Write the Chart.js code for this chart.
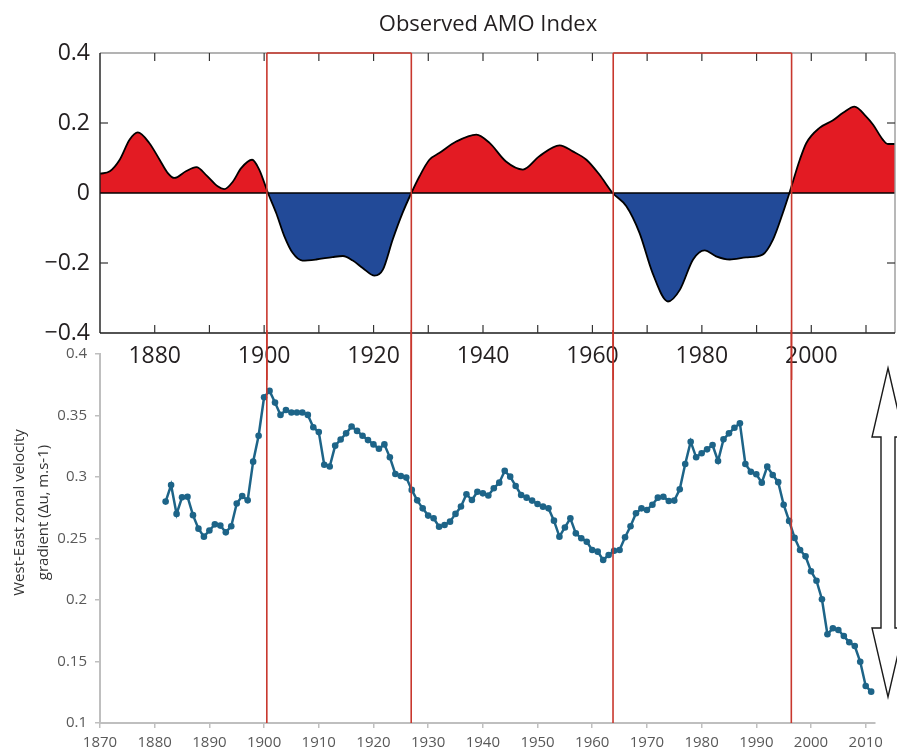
<!DOCTYPE html>
<html>
<head>
<meta charset="utf-8">
<title>Observed AMO Index and West-East zonal velocity gradient</title>
<script src="https://cdn.jsdelivr.net/npm/chart.js@4.4.1/dist/chart.umd.min.js"></script>
<style>
  html, body { margin: 0; padding: 0; background: #ffffff; }
  #wrap { position: relative; width: 897px; height: 756px; overflow: hidden; }
  #amo  { position: absolute; left: 0; top: 0; }
  #grad { position: absolute; left: 0; top: 330px; }
</style>
</head>
<body>
<div id="wrap">
  <canvas id="amo" width="897" height="380"></canvas>
  <canvas id="grad" width="897" height="426"></canvas>
</div>
<script>
// ---- Observed AMO index (smoothed), year / value ----
const amoYears = [
  1870, 1871.8, 1873.6, 1875.4, 1876.9, 1879, 1880.9, 1882.4, 1883.6, 1885.7,
  1887.6, 1889.6, 1891.5, 1892.7, 1894.3, 1895.8, 1897.8, 1899.1, 1900.7, 1902.2,
  1903.7, 1905.2, 1907, 1909.5, 1912.5, 1914.4, 1916.2, 1918, 1920.2, 1921.7,
  1923.5, 1925.3, 1926.9, 1928.4, 1930.2, 1932, 1935.1, 1938.8, 1941.2, 1944.2,
  1947.3, 1950.3, 1954, 1956.4, 1958.9, 1961.3, 1963.7, 1966.2, 1968.6, 1971,
  1973.8, 1976, 1978.4, 1980.5, 1982.6, 1985.1, 1988.1, 1991.1, 1993, 1994.8,
  1996, 1997.9, 1999.1, 2001.5, 2003.9, 2005.8, 2007.9, 2010, 2011.3, 2013.1,
  2014, 2015.3
];
const amoValues = [
  0.055, 0.062, 0.095, 0.152, 0.173, 0.143, 0.095, 0.057, 0.043, 0.062,
  0.074, 0.048, 0.019, 0.011, 0.033, 0.071, 0.095, 0.067, 0, -0.057,
  -0.124, -0.171, -0.193, -0.19, -0.183, -0.18, -0.193, -0.214, -0.236, -0.219,
  -0.133, -0.057, 0, 0.048, 0.095, 0.114, 0.147, 0.167, 0.143, 0.09,
  0.067, 0.105, 0.136, 0.119, 0.095, 0.052, 0, -0.038, -0.114, -0.229,
  -0.31, -0.276, -0.19, -0.164, -0.181, -0.19, -0.184, -0.176, -0.133, -0.057,
  0, 0.095, 0.143, 0.186, 0.207, 0.229, 0.247, 0.219, 0.195, 0.152,
  0.14, 0.14
];

// ---- West-East zonal velocity gradient (annual) ----
const gradYears = [
  1882, 1883, 1884, 1885, 1886, 1887, 1888, 1889, 1890, 1891,
  1892, 1893, 1894, 1895, 1896, 1897, 1898, 1899, 1900, 1901,
  1902, 1903, 1904, 1905, 1906, 1907, 1908, 1909, 1910, 1911,
  1912, 1913, 1914, 1915, 1916, 1917, 1918, 1919, 1920, 1921,
  1922, 1923, 1924, 1925, 1926, 1927, 1928, 1929, 1930, 1931,
  1932, 1933, 1934, 1935, 1936, 1937, 1938, 1939, 1940, 1941,
  1942, 1943, 1944, 1945, 1946, 1947, 1948, 1949, 1950, 1951,
  1952, 1953, 1954, 1955, 1956, 1957, 1958, 1959, 1960, 1961,
  1962, 1963, 1964, 1965, 1966, 1967, 1968, 1969, 1970, 1971,
  1972, 1973, 1974, 1975, 1976, 1977, 1978, 1979, 1980, 1981,
  1982, 1983, 1984, 1985, 1986, 1987, 1988, 1989, 1990, 1991,
  1992, 1993, 1994, 1995, 1996, 1997, 1998, 1999, 2000, 2001,
  2002, 2003, 2004, 2005, 2006, 2007, 2008, 2009, 2010, 2011
];
const gradValues = [
  0.280, 0.2935, 0.270, 0.2835, 0.284, 0.269, 0.258, 0.2515, 0.2565, 0.2615,
  0.2605, 0.255, 0.260, 0.2785, 0.2845, 0.281, 0.3125, 0.3335, 0.3648, 0.370,
  0.3605, 0.3505, 0.3545, 0.3525, 0.3525, 0.3525, 0.3505, 0.3405, 0.3365, 0.310,
  0.3085, 0.3255, 0.3305, 0.3355, 0.341, 0.3375, 0.3335, 0.330, 0.3265, 0.323,
  0.3265, 0.316, 0.3025, 0.3008, 0.2995, 0.2895, 0.281, 0.2745, 0.2686, 0.2665,
  0.2596, 0.261, 0.2637, 0.270, 0.276, 0.286, 0.2813, 0.288, 0.2867, 0.285,
  0.2908, 0.2954, 0.305, 0.3003, 0.2927, 0.2854, 0.2832, 0.2808, 0.278, 0.2759,
  0.2745, 0.2645, 0.2515, 0.259, 0.2664, 0.2542, 0.2502, 0.2474, 0.2407, 0.2393,
  0.2325, 0.2366, 0.240, 0.2407, 0.251, 0.260, 0.2705, 0.2745, 0.2732, 0.2775,
  0.2832, 0.284, 0.2805, 0.2808, 0.290, 0.3106, 0.3287, 0.316, 0.3193, 0.3225,
  0.326, 0.313, 0.3306, 0.3355, 0.340, 0.3436, 0.3106, 0.3043, 0.3022, 0.2954,
  0.3084, 0.3016, 0.2958, 0.2775, 0.2643, 0.2505, 0.2407, 0.2355, 0.2234, 0.2157,
  0.2006, 0.1721, 0.177, 0.1756, 0.1707, 0.1656, 0.1626, 0.1498, 0.1301, 0.1255
];

// ---- Phase boundaries (negative AMO phases framed in red) ----
const phaseBounds = [1900.5, 1926.9, 1963.8, 1996.4];

// ---- Tick values ----
const amoYearLabels = [1880, 1900, 1920, 1940, 1960, 1980, 2000];
const amoYearMarks  = [1880, 1890, 1900, 1910, 1920, 1930, 1940, 1950, 1960, 1970, 1980, 1990, 2000, 2010];
const amoValueTicks = [-0.4, -0.2, 0, 0.2, 0.4];
const amoValueMarks = [-0.2, 0.2];
const gradYearTicks = [1870, 1880, 1890, 1900, 1910, 1920, 1930, 1940, 1950, 1960, 1970, 1980, 1990, 2000, 2010];
const gradValueTicks = [0.1, 0.15, 0.2, 0.25, 0.3, 0.35, 0.4];

const RED_FILL = '#e31b23';
const BLUE_FILL = '#224a98';
const PHASE_RED = '#c8372d';
const LINE_BLUE = '#1d6488';
const INK = '#231f20';
const FONT = '"Open Sans", "Noto Sans", sans-serif';

const setTicks = (vals) => (scale) => { scale.ticks = vals.map(v => ({ value: v })); };
const yearLabel = (v) => String(v);

function line(ctx, x1, y1, x2, y2) {
  ctx.beginPath(); ctx.moveTo(x1, y1); ctx.lineTo(x2, y2); ctx.stroke();
}

// Frame, inward ticks, zero line, red phase boxes and the title of the AMO panel
const amoDecor = {
  id: 'amoDecor',
  afterDatasetsDraw(chart) {
    const { ctx, chartArea: a, scales: { x, y } } = chart;
    ctx.save();
    ctx.lineCap = 'butt';
    // zero line
    ctx.strokeStyle = '#000'; ctx.lineWidth = 1.3;
    const y0 = y.getPixelForValue(0);
    line(ctx, a.left, y0, a.right, y0);
    // frame
    ctx.lineWidth = 1.4;
    ctx.strokeStyle = '#9a9a9a';
    line(ctx, a.left, a.top, a.right, a.top);
    line(ctx, a.right, a.top, a.right, a.bottom);
    ctx.strokeStyle = '#1a1a1a';
    line(ctx, a.left, a.top, a.left, a.bottom);
    line(ctx, a.left, a.bottom, a.right, a.bottom);
    // inward ticks
    ctx.lineWidth = 1.2;
    ctx.strokeStyle = '#333';
    amoYearMarks.forEach(v => {
      const px = x.getPixelForValue(v);
      line(ctx, px, a.top, px, a.top + 8);
      line(ctx, px, a.bottom, px, a.bottom - 8);
    });
    amoValueMarks.forEach(v => {
      const py = y.getPixelForValue(v);
      line(ctx, a.left, py, a.left + 8, py);
      line(ctx, a.right, py, a.right - 8, py);
    });
    // red phase boxes
    ctx.strokeStyle = PHASE_RED; ctx.lineWidth = 1.6;
    for (let i = 0; i < phaseBounds.length; i += 2) {
      const x1 = x.getPixelForValue(phaseBounds[i]);
      const x2 = x.getPixelForValue(phaseBounds[i + 1]);
      line(ctx, x1, chart.height, x1, a.top);
      line(ctx, x1, a.top, x2, a.top);
      line(ctx, x2, a.top, x2, chart.height);
    }
    // title
    ctx.fillStyle = INK;
    ctx.font = '22px ' + FONT;
    ctx.textAlign = 'center';
    ctx.textBaseline = 'alphabetic';
    ctx.fillText('Observed AMO Index', 488, 31);
    ctx.restore();
  }
};

// Red phase lines continuing through the lower panel, axis title and the double arrow
const gradDecor = {
  id: 'gradDecor',
  afterDatasetsDraw(chart) {
    const { ctx, chartArea: a, scales: { x } } = chart;
    ctx.save();
    ctx.strokeStyle = PHASE_RED; ctx.lineWidth = 1.6;
    phaseBounds.forEach(v => {
      const px = x.getPixelForValue(v);
      line(ctx, px, 0, px, a.bottom);
    });
    ctx.restore();
  },
  afterDraw(chart) {
    const { ctx, chartArea: a } = chart;
    ctx.save();
    // axis title, two rotated lines
    ctx.fillStyle = '#333333';
    ctx.font = '15px ' + FONT;
    ctx.textAlign = 'center';
    ctx.textBaseline = 'middle';
    const cy = 182.5;
    [['West-East zonal velocity', 20], ['gradient (\u0394u, m.s-1)', 44]].forEach(([t, cx]) => {
      ctx.save();
      ctx.translate(cx, cy);
      ctx.rotate(-Math.PI / 2);
      ctx.fillText(t, 0, 0);
      ctx.restore();
    });
    // double-headed arrow on the right
    const cx = a.right + 13, top = a.top + 14, bottom = a.bottom - 26;
    const head = 69, hw = 16, sw = 7;
    ctx.beginPath();
    ctx.moveTo(cx, top);
    ctx.lineTo(cx + hw, top + head);
    ctx.lineTo(cx + sw, top + head);
    ctx.lineTo(cx + sw, bottom - head);
    ctx.lineTo(cx + hw, bottom - head);
    ctx.lineTo(cx, bottom);
    ctx.lineTo(cx - hw, bottom - head);
    ctx.lineTo(cx - sw, bottom - head);
    ctx.lineTo(cx - sw, top + head);
    ctx.lineTo(cx - hw, top + head);
    ctx.closePath();
    ctx.fillStyle = '#ffffff';
    ctx.fill();
    ctx.strokeStyle = '#1a1a1a';
    ctx.lineWidth = 1.4;
    ctx.lineJoin = 'miter';
    ctx.stroke();
    ctx.restore();
  }
};

Chart.defaults.font.family = FONT;

new Chart(document.getElementById('amo'), {
  type: 'line',
  data: {
    datasets: [{
      data: amoYears.map((yr, i) => ({ x: yr, y: amoValues[i] })),
      borderColor: '#000000',
      borderWidth: 1.8,
      pointRadius: 0,
      cubicInterpolationMode: 'monotone',
      fill: { target: 'origin', above: RED_FILL, below: BLUE_FILL }
    }]
  },
  options: {
    responsive: false,
    animation: false,
    layout: { padding: { top: 53, right: 2, left: 0, bottom: 0 } },
    plugins: { legend: { display: false }, tooltip: { enabled: false }, title: { display: false } },
    scales: {
      x: {
        type: 'linear', min: 1870, max: 2015.3,
        afterBuildTicks: setTicks(amoYearLabels),
        afterFit: (s) => { s.height = 47; },
        grid: { display: false, drawTicks: false },
        border: { display: false },
        ticks: { color: INK, font: { size: 23 }, padding: 10, maxRotation: 0, autoSkip: false, callback: yearLabel }
      },
      y: {
        min: -0.4, max: 0.4,
        afterBuildTicks: setTicks(amoValueTicks),
        afterFit: (s) => { s.width = 100; },
        grid: { display: false, drawTicks: false },
        border: { display: false },
        ticks: {
          color: INK, font: { size: 23 }, padding: 10,
          callback: (v) => v === 0 ? '0' : (v < 0 ? '\u2212' : '') + Math.abs(v).toFixed(1)
        }
      }
    }
  },
  plugins: [amoDecor]
});

new Chart(document.getElementById('grad'), {
  type: 'line',
  data: {
    datasets: [{
      data: gradYears.map((yr, i) => ({ x: yr, y: gradValues[i] })),
      borderColor: LINE_BLUE,
      backgroundColor: LINE_BLUE,
      borderWidth: 2.5,
      pointRadius: 3.3,
      pointBorderWidth: 0,
      pointBackgroundColor: LINE_BLUE,
      tension: 0,
      fill: false
    }]
  },
  options: {
    responsive: false,
    animation: false,
    layout: { padding: { top: 24, right: 22, left: 0, bottom: 0 } },
    plugins: { legend: { display: false }, tooltip: { enabled: false } },
    scales: {
      x: {
        type: 'linear', min: 1870, max: 2011.7,
        afterBuildTicks: setTicks(gradYearTicks),
        afterFit: (s) => { s.height = 33; },
        grid: { display: true, drawOnChartArea: false, drawTicks: true, tickLength: 5, color: '#bfbfbf', lineWidth: 1.5 },
        border: { display: true, color: '#bfbfbf', width: 2 },
        ticks: { color: '#595959', font: { size: 15 }, padding: 6, maxRotation: 0, autoSkip: false, callback: yearLabel }
      },
      y: {
        min: 0.1, max: 0.4,
        afterBuildTicks: setTicks(gradValueTicks),
        afterFit: (s) => { s.width = 100; },
        grid: { display: true, drawOnChartArea: false, drawTicks: true, tickLength: 5, color: '#bfbfbf', lineWidth: 1.5 },
        border: { display: true, color: '#bfbfbf', width: 2 },
        ticks: { color: '#595959', font: { size: 15 }, padding: 8, callback: (v) => String(+v.toFixed(2)) }
      }
    }
  },
  plugins: [gradDecor]
});
</script>
</body>
</html>
